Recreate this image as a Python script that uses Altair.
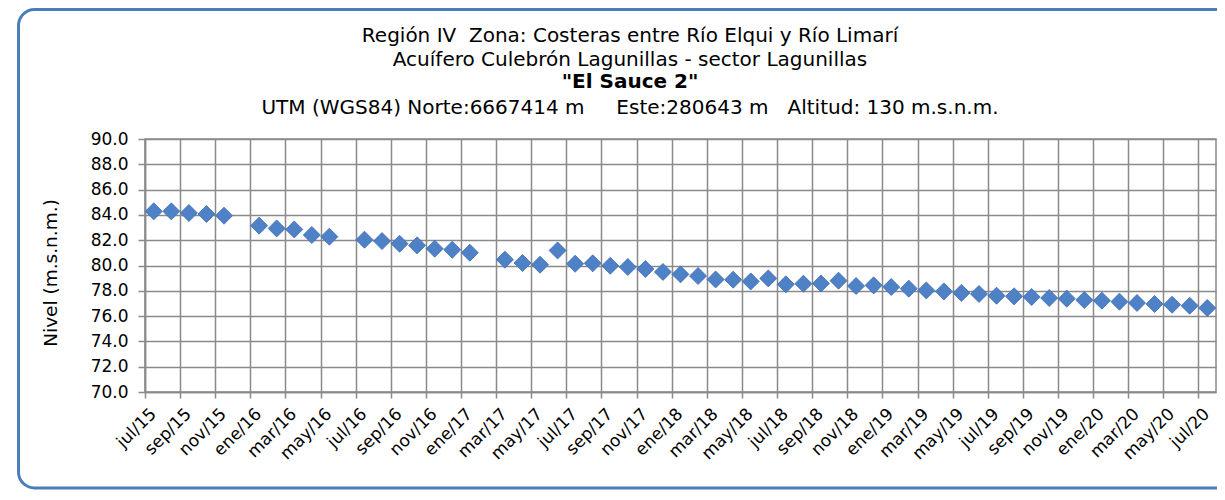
import json
import altair as alt
import pandas as pd

# month index (0 = jul/2015), points at mid-month
month_idx = [0, 1, 2, 3, 4,
             6, 7, 8, 9, 10,
             12, 13, 14, 15, 16, 17, 18,
             20, 21, 22, 23, 24, 25, 26, 27, 28, 29, 30, 31, 32, 33, 34, 35,
             36, 37, 38, 39, 40, 41, 42,
             43, 44, 45, 46, 47, 48, 49, 50, 51, 52, 53, 54, 55, 56, 57, 58, 59, 60]
nivel = [84.28, 84.28, 84.15, 84.07, 83.94,
         83.15, 82.93, 82.85, 82.41, 82.28,
         82.04, 81.93, 81.72, 81.59, 81.33, 81.25, 81.01,
         80.46, 80.20, 80.06, 81.19, 80.14, 80.17, 79.98, 79.88, 79.72, 79.49, 79.30, 79.17, 78.90, 78.88, 78.74, 78.98,
         78.51, 78.56, 78.58, 78.80, 78.38, 78.43, 78.30,
         78.17, 78.03, 77.95, 77.83, 77.75, 77.61, 77.56, 77.51, 77.43, 77.38, 77.27, 77.22, 77.14, 77.04, 76.96, 76.90, 76.82, 76.64]

tick_labels = ["jul/15", "sep/15", "nov/15", "ene/16", "mar/16", "may/16",
               "jul/16", "sep/16", "nov/16", "ene/17", "mar/17", "may/17",
               "jul/17", "sep/17", "nov/17", "ene/18", "mar/18", "may/18",
               "jul/18", "sep/18", "nov/18", "ene/19", "mar/19", "may/19",
               "jul/19", "sep/19", "nov/19", "ene/20", "mar/20", "may/20", "jul/20"]
tick_values = [2 * i for i in range(len(tick_labels))]

NB = "\u00a0"
title_lines = ["Región IV" + NB + " Zona: Costeras entre Río Elqui y Río Limarí",
               "Acuífero Culebrón Lagunillas - sector Lagunillas",
               "\"El Sauce 2\"",
               "UTM (WGS84) Norte:6667414 m" + NB * 4 + " Este:280643 m" + NB * 2 + " Altitud: 130 m.s.n.m."]
title_bold = [False, False, True, False]

df = pd.DataFrame({"x": [m + 0.5 for m in month_idx], "nivel": nivel})

FONT = "DejaVu Sans"
GRID = "#8a8a8a"
W, H = 1071, 253

label_expr = json.dumps(tick_labels) + "[round(datum.value / 2)]"

points = alt.Chart(df).mark_point(
    shape="diamond", filled=True, size=290, fill="#4F81C6", stroke="#3C6DB3",
    strokeWidth=0.8, opacity=1, clip=False
).encode(
    x=alt.X("x:Q", scale=alt.Scale(domain=[0, 61], nice=False, zero=False),
            axis=alt.Axis(values=tick_values, labelExpr=label_expr, labelAngle=-45,
                          labelAlign="right", labelBaseline="middle", labelPadding=13,
                          labelOffset=8,
                          labelFont=FONT, labelFontSize=17, labelColor="black",
                          labelOverlap=False, tickColor=GRID, tickSize=6, tickWidth=1.5,
                          domainColor=GRID, domainWidth=1.5, gridColor=GRID, gridWidth=1.5,
                          title=None)),
    y=alt.Y("nivel:Q", scale=alt.Scale(domain=[70, 90], nice=False, zero=False),
            axis=alt.Axis(values=list(range(70, 91, 2)), format=".1f",
                          labelFont=FONT, labelFontSize=17, labelColor="black", labelPadding=10,
                          tickColor=GRID, tickSize=7, tickWidth=1.5,
                          domainColor=GRID, domainWidth=1.5, gridColor=GRID, gridWidth=1.5,
                          title="Nivel (m.s.n.m.)", titleFont=FONT, titleFontSize=18.5,
                          titleFontWeight="normal", titleColor="black",
                          titleX=-95, titleY=H / 2 + 7, titleAngle=-90,
                          titleAlign="center", titleBaseline="middle")),
)

frame = alt.Chart(pd.DataFrame({"a": [0]})).mark_rect(
    fill=None, stroke="#4A7EBB", strokeWidth=3, cornerRadius=16, clip=False
).encode(x=alt.value(-126.5), x2=alt.value(1090), y=alt.value(-129.5), y2=alt.value(349))

title_df = pd.DataFrame({"t": title_lines, "bold": title_bold,
                         "yy": [-97.3, -73.3, -51, -25]})
base_t = alt.Chart(title_df)
titles_n = base_t.mark_text(
    font=FONT, fontSize=20, color="black", baseline="alphabetic", align="center", clip=False
).encode(text="t:N", x=alt.value(485), y=alt.Y("yy:Q", scale=None)
).transform_filter("!datum.bold")
titles_b = base_t.mark_text(
    font=FONT, fontSize=20, fontWeight="bold", color="black", baseline="alphabetic",
    align="center", clip=False
).encode(text="t:N", x=alt.value(485), y=alt.Y("yy:Q", scale=None)
).transform_filter("datum.bold")

chart = alt.layer(frame, points, titles_n, titles_b).properties(
    width=W, height=H,
    autosize=alt.AutoSizeParams(type="none"),
    padding={"left": 137, "top": 131, "right": 1, "bottom": 98},
    background="white",
).configure_view(stroke=GRID, strokeWidth=1.5)

chart.save("out.html", embed_options={"renderer": "svg", "actions": False})
